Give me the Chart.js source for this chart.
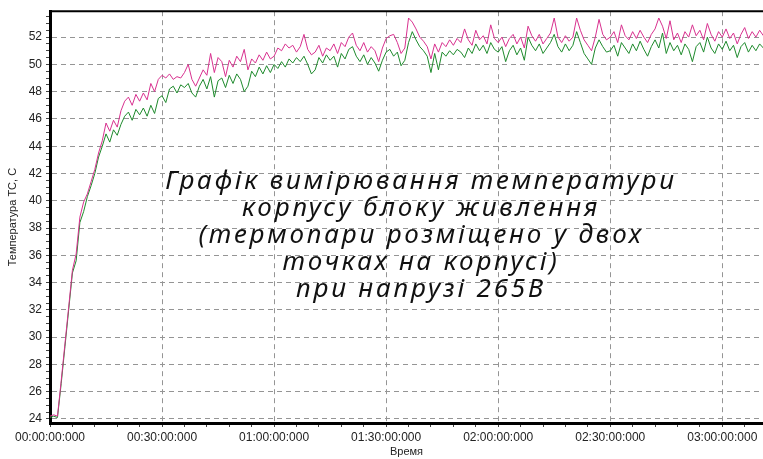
<!DOCTYPE html>
<html>
<head>
<meta charset="utf-8">
<title>Температура корпусу</title>
<script src="https://cdn.jsdelivr.net/npm/chart.js@4.4.0/dist/chart.umd.min.js"></script>
<style>
html, body { margin: 0; padding: 0; background: #fff; overflow: hidden; }
#wrap { width: 763px; height: 459px; position: relative; }
</style>
</head>
<body>
<div id="wrap"><canvas id="chart"></canvas></div>
<script>
// one sample per minute
const sampleStep = 1;

const greenTemp = [
    24.1, 24.2, 24.1, 26.6, 29.3, 32.0, 34.7, 35.6, 38.4, 39.2,
    40.3, 41.1, 42.0, 43.2, 44.0, 44.9, 44.3, 45.2, 44.8, 45.6,
    46.2, 46.5, 45.9, 46.7, 46.3, 46.8, 46.2, 47.0, 46.4, 47.5,
    47.7, 47.2, 48.2, 48.4, 47.9, 48.5, 48.3, 48.6, 47.9, 47.6,
    48.4, 48.9, 48.2, 49.1, 47.6, 48.8, 49.0, 48.3, 49.2, 48.6,
    49.3, 48.9, 48.0, 48.4, 49.5, 49.1, 49.8, 49.3, 49.9, 49.4,
    50.0, 49.7, 50.2, 49.8, 50.4, 50.1, 50.5, 50.2, 50.6, 50.0,
    49.3, 49.6, 50.5, 50.1, 50.7, 50.3, 50.6, 49.8, 50.8, 50.4,
    51.1, 51.3, 50.6, 50.2, 50.7, 50.0, 50.5, 50.1, 49.5, 50.3,
    50.9, 51.1, 50.6, 50.9, 49.9, 50.3, 51.6, 52.4, 51.8, 51.3,
    51.0, 50.6, 49.4, 50.8, 49.6, 50.9, 50.6, 51.0, 50.7, 51.1,
    50.9, 50.5, 51.2, 50.8, 51.5, 51.0, 51.4, 50.8, 51.6, 51.1,
    50.9, 51.3, 50.2, 51.0, 51.4, 50.7, 51.2, 50.3, 52.0, 51.4,
    51.0, 51.5, 50.8, 51.2, 51.6, 52.2, 51.3, 50.9, 51.5, 51.0,
    51.4, 52.4, 51.6, 50.8, 50.4, 50.0, 51.2, 51.8, 51.3, 50.9,
    51.0, 51.4, 50.6, 51.6, 51.2, 50.8, 51.5, 51.0, 51.7, 51.1,
    50.6, 51.3, 51.8, 51.2, 52.3, 50.8, 51.6, 51.0, 51.4, 50.7,
    51.5, 51.1, 50.2, 51.3, 51.6, 50.9, 52.0, 51.2, 50.8, 51.5,
    51.1, 51.7, 51.0, 51.4, 50.5, 51.3, 51.6, 50.9, 51.4, 51.0,
    51.5, 51.2
];

const pinkTemp = [
    24.2, 24.3, 24.2, 26.8, 29.5, 32.2, 34.9, 36.1, 38.8, 39.9,
    40.5, 41.4, 42.3, 43.5, 44.4, 45.7, 45.1, 45.9, 45.4, 46.6,
    47.3, 47.6, 47.0, 47.8, 47.3, 47.9, 47.4, 48.6, 48.0, 48.9,
    49.2, 49.0, 49.3, 48.9, 49.1, 49.0, 49.4, 50.0, 48.9, 48.4,
    49.0, 49.6, 49.2, 50.8, 49.4, 50.5, 50.2, 49.1, 50.3, 49.8,
    50.6, 50.2, 51.1, 49.6, 50.4, 50.1, 50.7, 50.3, 50.9, 50.4,
    50.6, 51.2, 51.0, 51.5, 51.2, 51.4, 50.9, 51.3, 52.2, 51.1,
    50.7, 50.9, 51.4, 50.6, 51.2, 51.0, 51.5, 50.8, 51.6, 51.3,
    52.0, 52.3, 51.4, 51.0, 51.6, 50.9, 51.3, 51.0, 50.2, 51.2,
    51.9, 52.1, 52.2, 51.6, 50.8, 51.2, 53.4, 53.1, 52.6, 52.0,
    51.7, 51.3, 50.4, 51.5, 50.9, 51.6, 51.3, 51.8, 51.4, 51.9,
    51.6, 52.6, 51.8, 51.4, 52.5, 51.8, 52.1, 51.5, 52.9, 51.9,
    51.6, 52.0, 51.3, 51.9, 52.2, 51.5, 52.0, 51.2, 52.8, 52.1,
    51.7, 52.2, 51.5, 51.9, 52.3, 53.4, 52.0, 51.6, 52.1, 51.7,
    52.0, 53.4, 52.5, 51.8, 51.4, 51.0, 52.0, 53.3, 52.2, 51.8,
    52.0, 52.4, 51.6, 52.9, 52.1, 51.8, 52.4, 51.9, 52.5, 52.0,
    51.6, 52.2, 52.6, 53.4, 52.8, 51.9, 53.2, 51.8, 52.3, 51.6,
    52.4, 52.0, 52.9, 52.1, 52.5, 51.8, 53.0, 52.2, 51.7, 52.4,
    52.0, 52.6, 51.9, 52.3, 51.5, 52.2, 52.7, 51.9, 52.4, 52.0,
    52.5, 52.1
];

const xTickMinutes = [0, 30, 60, 90, 120, 150, 180];
const xTickLabels = ['00:00:00:000', '00:30:00:000', '01:00:00:000', '01:30:00:000',
    '02:00:00:000', '02:30:00:000', '03:00:00:000'];
const yTickValues = [24, 26, 28, 30, 32, 34, 36, 38, 40, 42, 44, 46, 48, 50, 52];

const titleLines = [
    'Графік вимірювання температури',
    'корпусу блоку живлення',
    '(термопари розміщено у двох',
    'точках на корпусі)',
    'при напрузі 265В'
];

const xMin = 0, xMax = 190.9;
const yMin = 23.7, yMax = 53.9;

function toPoints(values) {
    return values.map((v, i) => ({ x: i * sampleStep, y: v }));
}

// minor ticks every 6 min / 0.5 deg, labelled only on the major ones
const xMinor = [];
for (let m = 0; m <= xMax; m += 6) xMinor.push(m);
const yMinor = [];
for (let v = 24; v <= yMax; v += 0.5) yMinor.push(v);

const gridColor = '#959595';
const labelFont = { family: '"Liberation Sans", Arial, sans-serif', size: 12 };

const overlay = {
    id: 'overlay',
    afterDraw(chart) {
        const ctx = chart.ctx;
        const area = chart.chartArea;
        ctx.save();
        // top frame line
        ctx.strokeStyle = '#000';
        ctx.lineWidth = 2;
        ctx.beginPath();
        ctx.moveTo(area.left, area.top);
        ctx.lineTo(chart.width, area.top);
        ctx.stroke();

        ctx.fillStyle = '#111';
        ctx.font = 'italic 26px "Noto Sans", "Open Sans", sans-serif';
        ctx.letterSpacing = '2.8px';
        ctx.textAlign = 'center';
        ctx.textBaseline = 'middle';
        titleLines.forEach((line, i) => {
            ctx.fillText(line, 421, 182 + i * 27);
        });
        ctx.restore();
    }
};

new Chart(document.getElementById('chart'), {
    type: 'line',
    data: {
        datasets: [
            {
                label: 'Термопара 1',
                data: toPoints(pinkTemp),
                borderColor: '#d8318f',
                borderWidth: 1,
                pointRadius: 0,
                tension: 0,
                fill: false
            },
            {
                label: 'Термопара 2',
                data: toPoints(greenTemp),
                borderColor: '#1e8a2c',
                borderWidth: 1,
                pointRadius: 0,
                tension: 0,
                fill: false
            }
        ]
    },
    options: {
        responsive: true,
        maintainAspectRatio: false,
        animation: false,
        layout: { padding: { top: 7, left: 0, right: 0, bottom: 0 } },
        plugins: {
            legend: { display: false },
            tooltip: { enabled: false }
        },
        scales: {
            x: {
                type: 'linear',
                min: xMin,
                max: xMax,
                afterBuildTicks: scale => { scale.ticks = xMinor.map(v => ({ value: v })); },
                afterFit: scale => { scale.height = 36; },
                ticks: {
                    autoSkip: false,
                    maxRotation: 0,
                    padding: 3,
                    color: '#222',
                    font: labelFont,
                    callback: value => {
                        const idx = xTickMinutes.indexOf(value);
                        return idx >= 0 ? xTickLabels[idx] : '';
                    }
                },
                grid: {
                    color: c => xTickMinutes.includes(c.tick && c.tick.value) ? gridColor : 'rgba(0,0,0,0)',
                    tickColor: '#444',
                    tickLength: 4,
                    tickBorderDash: []
                },
                border: { display: true, color: '#000', width: 3, dash: [5, 4] },
                title: {
                    display: true,
                    text: 'Время',
                    color: '#222',
                    font: { family: '"Liberation Sans", Arial, sans-serif', size: 11 },
                    padding: { top: 0, bottom: 0 }
                }
            },
            y: {
                min: yMin,
                max: yMax,
                afterBuildTicks: scale => { scale.ticks = yMinor.map(v => ({ value: v })); },
                afterFit: scale => { scale.width = 50; },
                ticks: {
                    autoSkip: false,
                    padding: 4,
                    color: '#222',
                    font: labelFont,
                    callback: value => yTickValues.includes(value) ? String(value) : ''
                },
                grid: {
                    color: c => yTickValues.includes(c.tick && c.tick.value) ? gridColor : 'rgba(0,0,0,0)',
                    tickColor: '#444',
                    tickLength: 4,
                    tickBorderDash: []
                },
                border: { display: true, color: '#000', width: 3, dash: [5, 4] },
                title: {
                    display: true,
                    text: 'Температура ТС, С',
                    color: '#222',
                    font: { family: '"Liberation Sans", Arial, sans-serif', size: 11 },
                    padding: { top: 6, bottom: 0 }
                }
            }
        }
    },
    plugins: [overlay]
});
</script>
</body>
</html>
